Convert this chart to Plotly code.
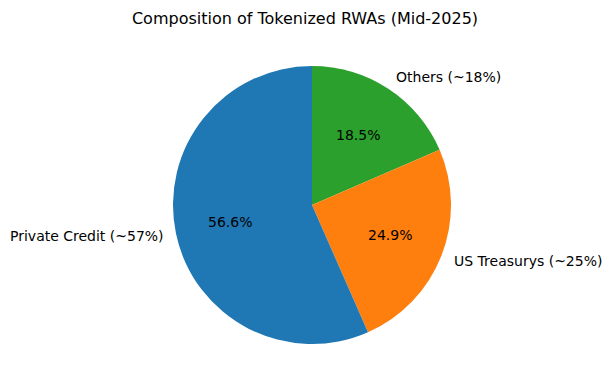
import math
import plotly.graph_objects as go

# Data
categories = ["Private Credit (~57%)", "US Treasurys (~25%)", "Others (~18%)"]
shares = [56.6, 24.9, 18.5]
colors = ["#1f77b4", "#ff7f0e", "#2ca02c"]
title = "Composition of Tokenized RWAs (Mid-2025)"

# Layout geometry (pixels)
W, H = 611, 389
CX, CY = 312, 205   # pie centre from top-left
R = 139
FONT = "DejaVu Sans"

dom_x = [(CX - R) / W, (CX + R) / W]
dom_y = [1 - (CY + R) / H, 1 - (CY - R) / H]

# Slices go counterclockwise from 12 o'clock (like matplotlib startangle=90):
# equivalent to clockwise with the order reversed.
fig = go.Figure(go.Pie(
    labels=categories[::-1],
    values=shares[::-1],
    marker=dict(colors=colors[::-1], line=dict(width=0)),
    sort=False,
    direction="clockwise",
    rotation=0,
    textinfo="none",
    hoverinfo="label+percent",
    domain=dict(x=dom_x, y=dom_y),
    showlegend=False,
))

total = sum(shares)
annotations = []
cum = 0.0
for lab, v in zip(categories, shares):
    frac = v / total
    mid = math.radians(90 + 360 * (cum + frac / 2))
    cum += frac
    dx, dy = math.cos(mid), math.sin(mid)
    # outer label at 1.1 r
    lx = (CX + 1.1 * R * dx + (-1 if dx > 0 else 3)) / W
    ly = 1 - (CY - 1.1 * R * dy) / H
    annotations.append(dict(
        x=lx, y=ly, xref="paper", yref="paper", text=lab, showarrow=False,
        xanchor="left" if dx > 0 else "right", yanchor="middle",
        borderpad=0,
        font=dict(family=FONT, size=14, color="black")))
    # percentage at 0.6 r
    px = (CX + 0.6 * R * dx) / W
    py = 1 - (CY - 0.6 * R * dy) / H
    annotations.append(dict(
        x=px, y=py, xref="paper", yref="paper", text=f"{100*frac:.1f}%",
        showarrow=False, xanchor="center", yanchor="middle",
        font=dict(family=FONT, size=14, color="black")))

fig.update_layout(
    width=W, height=H,
    margin=dict(l=0, r=0, t=0, b=0),
    paper_bgcolor="white", plot_bgcolor="white",
    title=dict(text=title, x=305 / W, xanchor="center", y=1 - 18 / H, yanchor="middle",
               font=dict(family=FONT, size=16, color="black")),
    annotations=annotations,
)

fig.write_html("out.html", config={"displayModeBar": False},
               post_script="document.body.style.margin='0';")
